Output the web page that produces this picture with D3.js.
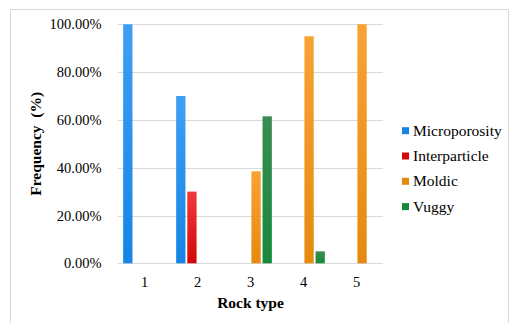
<!DOCTYPE html>
<html>
<head>
<meta charset="utf-8">
<script src="https://cdn.jsdelivr.net/npm/d3@7"></script>
<style>
  html, body { margin: 0; padding: 0; background: #fff; }
  svg { display: block; }
</style>
</head>
<body>
<svg id="chart" width="510" height="323"></svg>
<script>
// Rock types on the x axis
const rockTypes = ["1", "2", "3", "4", "5"];
// Pore type series (frequency, %)
const seriesNames = ["Microporosity", "Interparticle", "Moldic", "Vuggy"];
const microporosity = [100, 70, 0, 0, 0];
const interparticle = [0, 30, 0, 0, 0];
const moldic = [0, 0, 38.5, 95, 100];
const vuggy = [0, 0, 61.5, 5, 0];
const yTicks = [0, 20, 40, 60, 80, 100];

const seriesValues = [microporosity, interparticle, moldic, vuggy];
const colors = [
  ["#3f9ff4", "#1585e6"],
  ["#f23a3a", "#d40808"],
  ["#f9a234", "#e6890e"],
  ["#3a8c52", "#168a3c"]
];
const SERIF = "'Liberation Serif'";

const svg = d3.select("#chart");

// outer chart frame
svg.append("rect")
  .attr("x", 10.5).attr("y", 9.5)
  .attr("width", 498).attr("height", 340)
  .attr("fill", "none").attr("stroke", "#d9d9d9").attr("stroke-width", 1);

const plot = { left: 118, right: 383, top: 24.3, bottom: 263.3 };

const x0 = d3.scaleBand().domain(rockTypes).range([plot.left, plot.right]).padding(0);
const x1 = d3.scaleBand().domain(seriesNames).range([0, x0.bandwidth()])
  .paddingInner(0.164).paddingOuter(0.463);
const y = d3.scaleLinear().domain([0, 100]).range([plot.bottom, plot.top]);

// gradients for bar fills
const defs = svg.append("defs");
seriesNames.forEach((name, i) => {
  const g = defs.append("linearGradient")
    .attr("id", "grad" + i).attr("x1", 0).attr("y1", 0).attr("x2", 0).attr("y2", 1);
  g.append("stop").attr("offset", "0%").attr("stop-color", colors[i][0]);
  g.append("stop").attr("offset", "100%").attr("stop-color", colors[i][1]);
});

// horizontal gridlines
svg.append("g")
  .selectAll("line")
  .data(yTicks)
  .join("line")
  .attr("x1", plot.left).attr("x2", plot.right)
  .attr("y1", d => Math.round(y(d)) + 0.5).attr("y2", d => Math.round(y(d)) + 0.5)
  .attr("stroke", "#d9d9d9").attr("stroke-width", 1);

// y axis labels
const yAxis = d3.axisLeft(y).tickValues(yTicks)
  .tickFormat(d => d3.format(".2f")(d) + "%").tickSize(0).tickPadding(16.5);
const gy = svg.append("g").attr("transform", `translate(${plot.left},0)`).call(yAxis);
gy.attr("font-family", null).attr("font-size", null);
gy.select(".domain").remove();
gy.selectAll("text").style("font-size", "14.5px").style("font-family", SERIF).attr("fill", "#000");

// x axis labels
const xAxis = d3.axisBottom(x0).tickSize(0).tickPadding(13);
const gx = svg.append("g").attr("transform", `translate(0,${plot.bottom})`).call(xAxis);
gx.attr("font-family", null).attr("font-size", null);
gx.select(".domain").remove();
gx.selectAll("text").style("font-size", "14.5px").style("font-family", SERIF).attr("fill", "#000");

// bars
seriesNames.forEach((name, i) => {
  svg.append("g")
    .selectAll("rect")
    .data(seriesValues[i].map((v, j) => ({ cat: rockTypes[j], v })))
    .join("rect")
    .attr("x", d => x0(d.cat) + x1(name))
    .attr("width", x1.bandwidth())
    .attr("y", d => y(d.v))
    .attr("height", d => y(0) - y(d.v))
    .attr("fill", `url(#grad${i})`);
});

// axis titles
svg.append("text")
  .attr("x", (plot.left + plot.right) / 2).attr("y", 308)
  .attr("text-anchor", "middle")
  .style("font-family", SERIF)
  .style("font-size", "15.5px").style("font-weight", "bold")
  .text("Rock type");

svg.append("text")
  .attr("transform", `translate(41,${(plot.top + plot.bottom) / 2}) rotate(-90)`)
  .attr("text-anchor", "middle")
  .style("font-family", SERIF)
  .style("font-size", "15.5px").style("font-weight", "bold")
  .text("Frequency\u00a0\u00a0(%)");

// legend
const legend = svg.append("g");
seriesNames.forEach((name, i) => {
  const cy = 130.7 + i * 25.3;
  legend.append("rect")
    .attr("x", 402).attr("y", cy - 3.5)
    .attr("width", 7).attr("height", 7)
    .attr("fill", colors[i][1]);
  legend.append("text")
    .attr("x", 413).attr("y", cy + 5)
    .style("font-family", SERIF)
    .style("font-size", "15.5px")
    .text(name);
});
</script>
</body>
</html>
